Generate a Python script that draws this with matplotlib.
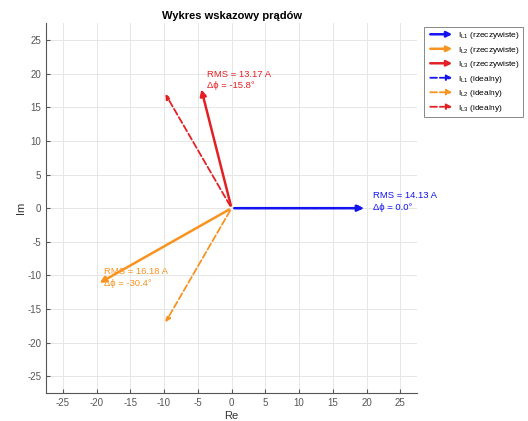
import numpy as np
from matplotlib import pyplot as plt
from matplotlib.patches import FancyArrowPatch
from matplotlib.legend_handler import HandlerPatch

plt.rcParams['font.family'] = ['Liberation Sans', 'DejaVu Sans']
plt.rcParams['axes.unicode_minus'] = False

phases = ['L1', 'L2', 'L3']
rms = [14.13, 16.18, 13.17]
dphi = [0.0, -30.4, -15.8]
ideal_angle = [0.0, -120.0, 120.0]
ideal_amp = [20.0, 20.0, 20.0]
colors = ['#1414f0', '#f7931e', '#e32124']


class HandlerArrow(HandlerPatch):
    def create_artists(self, legend, orig_handle, xdescent, ydescent,
                       width, height, fontsize, trans):
        y = height / 2 - ydescent
        p = FancyArrowPatch((-xdescent, y), (width - xdescent, y),
                            arrowstyle='-|>', mutation_scale=8,
                            color=orig_handle.get_edgecolor(),
                            linestyle=orig_handle.get_linestyle(),
                            linewidth=orig_handle.get_linewidth(),
                            transform=trans)
        return [p]


def main():
    fig = plt.figure(figsize=(5.28, 4.21), dpi=100)
    ax = fig.add_axes([0.087, 0.066, 0.703, 0.879])

    handles = []
    labels = []
    tips = []
    for i in range(3):
        amp = rms[i] * np.sqrt(2)
        ang = np.deg2rad(ideal_angle[i] + dphi[i])
        tip = (amp * np.cos(ang), amp * np.sin(ang))
        tips.append(tip)
        a = FancyArrowPatch((0, 0), tip, arrowstyle='-|>', mutation_scale=9,
                            color=colors[i], linewidth=1.8, zorder=3)
        ax.add_patch(a)
        handles.append(a)
        labels.append(r'I$_{\mathregular{%s}}$ (rzeczywiste)' % phases[i])
    for i in range(3):
        ang = np.deg2rad(ideal_angle[i])
        tip = (ideal_amp[i] * np.cos(ang), ideal_amp[i] * np.sin(ang))
        a = FancyArrowPatch((0, 0), tip, arrowstyle='-|>', mutation_scale=7,
                            color=colors[i], linewidth=1.3, linestyle='--', zorder=2)
        ax.add_patch(a)
        handles.append(a)
        labels.append(r'I$_{\mathregular{%s}}$ (idealny)' % phases[i])

    for i in range(3):
        ax.text(tips[i][0] + 1, tips[i][1] + 1,
                'RMS = %.2f A\nΔϕ = %.1f°' % (rms[i], dphi[i]),
                color=colors[i], fontsize=6.8, ha='left', va='center',
                linespacing=1.3, zorder=4)

    ax.set_xlim(-27.5, 27.5)
    ax.set_ylim(-27.5, 27.5)
    ax.set_xticks(np.arange(-25, 26, 5))
    ax.set_yticks(np.arange(-25, 26, 5))
    ax.grid(True, color='#e6e6e6', linewidth=0.7)
    ax.set_axisbelow(True)
    for s in ['top', 'right']:
        ax.spines[s].set_visible(False)
    for s in ['left', 'bottom']:
        ax.spines[s].set_color('#555555')
        ax.spines[s].set_linewidth(0.8)
    ax.tick_params(direction='in', length=3, colors='#555555', labelsize=7,
                   labelcolor='#555555')
    ax.set_xlabel('Re', fontsize=8, color='#333333', labelpad=2)
    ax.set_ylabel('Im', fontsize=8, color='#333333', labelpad=1)
    ax.set_title('Wykres wskazowy prądów', fontsize=8, fontweight='bold', pad=3)

    leg = ax.legend(handles, labels, loc='upper left', bbox_to_anchor=(1.019, 0.99),
                    fontsize=6.0, handler_map={FancyArrowPatch: HandlerArrow()},
                    handlelength=3.3, handletextpad=0.3, labelspacing=0.42,
                    borderpad=0.4, borderaxespad=0, fancybox=False,
                    edgecolor='#888888', framealpha=1)
    leg.get_frame().set_linewidth(0.7)

    fig.savefig('out.png', dpi=100)


if __name__ == "__main__":
    main()
